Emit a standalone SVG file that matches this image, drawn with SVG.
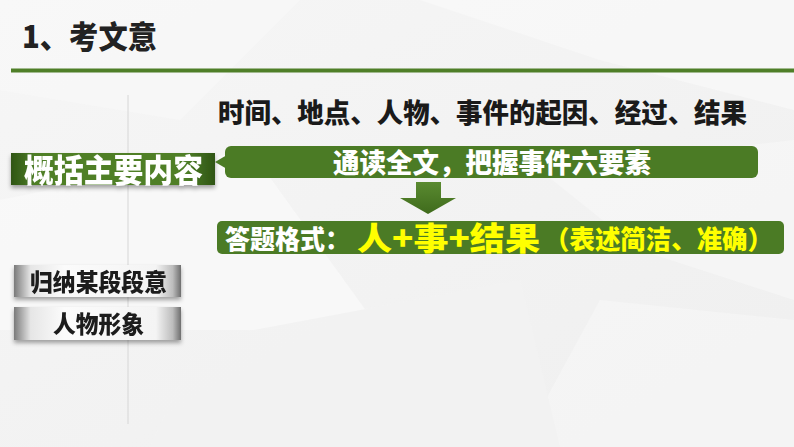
<svg xmlns="http://www.w3.org/2000/svg" width="794" height="447" viewBox="0 0 794 447">
<defs>
<style>
.cjk{font-family:"Noto Sans CJK SC","Noto Sans",sans-serif;font-weight:900;}
.wt{fill:#ffffff;}
.yl{fill:#ffff00;}
.bk{fill:#1a1a1a;}
</style>
<linearGradient id="bg" x1="0" y1="0" x2="1" y2="1">
<stop offset="0" stop-color="#f6f6f6"/>
<stop offset="1" stop-color="#efefef"/>
</linearGradient>
<linearGradient id="gdark" x1="0" y1="0" x2="1" y2="0">
<stop offset="0" stop-color="#2f5514"/>
<stop offset="0.12" stop-color="#4f7f28"/>
<stop offset="0.85" stop-color="#4f7f28"/>
<stop offset="1" stop-color="#2f5514"/>
</linearGradient>
<linearGradient id="gray" x1="0" y1="0" x2="1" y2="0">
<stop offset="0" stop-color="#7a7a7a"/>
<stop offset="0.1" stop-color="#e6e6e6"/>
<stop offset="0.3" stop-color="#fbfbfb"/>
<stop offset="0.85" stop-color="#f4f4f4"/>
<stop offset="0.95" stop-color="#bdbdbd"/>
<stop offset="1" stop-color="#6e6e6e"/>
</linearGradient>
<linearGradient id="arr" x1="0" y1="0" x2="0" y2="1">
<stop offset="0" stop-color="#5a8a30"/>
<stop offset="1" stop-color="#3f6b1c"/>
</linearGradient>
<filter id="sh" x="-10%" y="-20%" width="120%" height="160%">
<feDropShadow dx="0" dy="3" stdDeviation="2" flood-color="#000" flood-opacity="0.35"/>
</filter>
</defs>

<rect x="0" y="0" width="794" height="447" fill="url(#bg)"/>
<g id="background-facets" opacity="0.7">
<polygon points="0,0 300,0 180,120 0,90" fill="#f9f9f9"/>
<polygon points="420,0 794,0 794,110 600,60" fill="#fafafa"/>
<polygon points="0,200 250,150 380,330 0,330" fill="#fbfbfb"/>
<polygon points="600,300 794,320 794,447 520,447" fill="#f7f7f7"/>
<polygon points="200,340 520,280 560,447 150,447" fill="#f3f3f3"/>
<polygon points="540,170 794,140 794,300 640,250" fill="#f8f8f8"/>
</g>

<g id="title">
<text class="cjk" x="22" y="48" font-size="31" fill="#222" textLength="135" lengthAdjust="spacingAndGlyphs">1、考文意</text>
<rect x="11" y="68.5" width="783" height="4" fill="#4f7f28"/>
</g>

<line x1="128" y1="95" x2="128" y2="424" stroke="#d6d6d6" stroke-width="1"/>

<g id="elements-text">
<text class="cjk bk" x="218" y="123" font-size="27" textLength="529" lengthAdjust="spacingAndGlyphs">时间、地点、人物、事件的起因、经过、结果</text>
</g>

<g id="node-summary" filter="url(#sh)">
<rect x="11" y="153" width="204" height="32" fill="url(#gdark)"/>
<text class="cjk wt" x="24" y="182" font-size="32" textLength="179" lengthAdjust="spacingAndGlyphs">概括主要内容</text>
</g>

<g id="node-read">
<rect x="225" y="146" width="533" height="32" rx="6" fill="#4b7b25"/>
<polygon points="215,162 227,155 227,169" fill="#4b7b25"/>
<text class="cjk wt" x="333" y="173" font-size="27" textLength="318" lengthAdjust="spacingAndGlyphs">通读全文，把握事件六要素</text>
</g>

<g id="connectors">
<polygon points="416,182 441,182 441,198 456,198 428,214 400,198 416,198" fill="url(#arr)"/>
</g>

<g id="node-format">
<rect x="217" y="221" width="567" height="33" rx="5" fill="#4b7b25"/>
<text class="cjk wt" x="225" y="249" font-size="26" textLength="125" lengthAdjust="spacingAndGlyphs">答题格式：</text>
<text class="cjk yl" x="357" y="250" font-size="32" textLength="183" lengthAdjust="spacingAndGlyphs">人+事+结果</text>
<text class="cjk yl" x="544" y="249" font-size="26" textLength="229" lengthAdjust="spacingAndGlyphs">（表述简洁、准确）</text>
</g>

<g id="node-paragraph" filter="url(#sh)">
<rect x="14" y="265" width="167" height="32" fill="url(#gray)"/>
<text class="cjk bk" x="30" y="291" font-size="24" textLength="137" lengthAdjust="spacingAndGlyphs">归纳某段段意</text>
</g>

<g id="node-character" filter="url(#sh)">
<rect x="14" y="307" width="167" height="33" fill="url(#gray)"/>
<text class="cjk bk" x="53" y="333" font-size="24" textLength="91" lengthAdjust="spacingAndGlyphs">人物形象</text>
</g>
</svg>
